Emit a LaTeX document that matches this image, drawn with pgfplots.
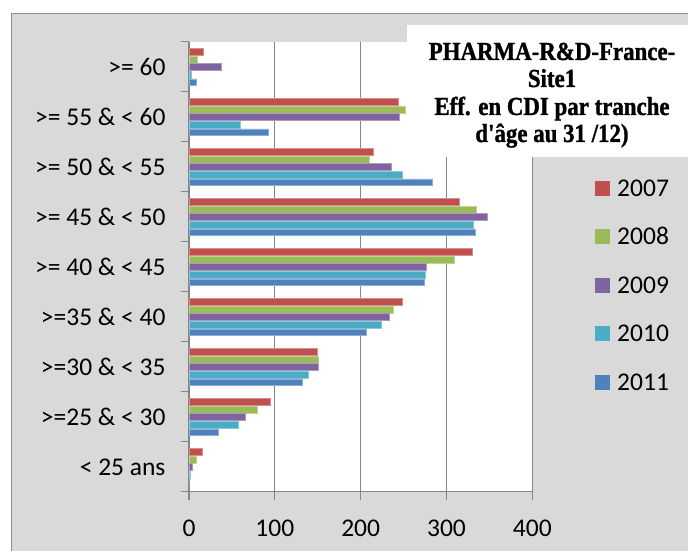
\documentclass[border=0pt]{standalone}
\usepackage{fontspec}
\setmainfont{Carlito}
\newfontfamily\titlefont{Liberation Serif}[FakeStretch=0.88, FakeBold=1.2]
\usepackage{pgfplots}
\pgfplotsset{compat=1.18}
\definecolor{c07}{HTML}{C0504D}
\definecolor{c08}{HTML}{9BBB59}
\definecolor{c09}{HTML}{8064A2}
\definecolor{c10}{HTML}{4BACC6}
\definecolor{c11}{HTML}{4F81BD}
\definecolor{bggray}{HTML}{D9D9D9}
\definecolor{framegray}{HTML}{8C8C8C}
\definecolor{gridgray}{HTML}{868686}
\pgfplotsset{sqlegend/.style={legend image code/.code={\fill[##1,draw=none] (0pt,-7.5pt) rectangle (15pt,7.5pt);}}}
\begin{document}
\begin{tikzpicture}[x=1pt,y=1pt]
\useasboundingbox (0,0) rectangle (688,551);
\fill[white] (0,0) rectangle (688,551);
\filldraw[fill=bggray, draw=framegray, line width=1pt] (11,537) rectangle (710,-20);
\begin{axis}[
  at={(189pt,59pt)}, anchor=south west, scale only axis,
  width=343.3pt, height=450pt,
  xmin=0, xmax=400, ymin=-0.5, ymax=8.5,
  xbar, bar width=0.135,
  axis background/.style={fill=white},
  axis lines*=left,
  axis line style={-, draw=gridgray, line width=1pt},
  every outer x axis line/.append style={-},
  every outer y axis line/.append style={-},
  tick align=outside,
  xtick={0,100,...,400},
  xmajorgrids,
  grid style={gridgray, line width=1pt},
  major tick length=8pt, minor tick length=8pt,
  every major x tick/.append style={draw=gridgray, line width=1pt},
  every major y tick/.append style={draw=none},
  every minor y tick/.append style={draw=gridgray, line width=1pt},
  ytick={0,...,8},
  minor ytick={-0.5,0.5,...,8.5},
  yticklabels={{< 25 ans},{>=25 \& < 30},{>=30 \& < 35},{>=35 \& < 40},{>= 40 \& < 45},{>= 45 \& < 50},{>= 50 \& < 55},{>= 55 \& < 60},{>= 60}},
  /pgf/number format/assume math mode=true,
  ticklabel style={font=\fontsize{25.5}{30}\selectfont},
  xticklabel style={yshift=-16pt},
  yticklabel style={xshift=-12pt},
  legend style={at={(1.1827,0.6933)}, anchor=north west, draw=none, fill=none,
    inner sep=0pt, row sep=32.5pt, column sep=7pt,
    font=\fontsize{25.5}{30}\selectfont,
    nodes={inner sep=0pt, text height=16pt, text depth=0pt}},
]
\addplot[fill=c07, draw=c07!65!white, line width=0.5pt, bar shift=0.304, sqlegend]
  coordinates {(16,0) (95,1) (149,2) (248,3) (330,4) (315,5) (215,6) (244,7) (17,8)};
\addplot[fill=c08, draw=c08!65!white, line width=0.5pt, bar shift=0.152, sqlegend]
  coordinates {(8,0) (80,1) (151,2) (238,3) (309,4) (335,5) (210,6) (252,7) (10,8)};
\addplot[fill=c09, draw=c09!65!white, line width=0.5pt, bar shift=0, sqlegend]
  coordinates {(4,0) (65,1) (151,2) (233,3) (276,4) (348,5) (236,6) (245,7) (38,8)};
\addplot[fill=c10, draw=c10!65!white, line width=0.5pt, bar shift=-0.152, sqlegend]
  coordinates {(1,0) (57,1) (139,2) (224,3) (275,4) (331,5) (248,6) (60,7) (3,8)};
\addplot[fill=c11, draw=c11!65!white, line width=0.5pt, bar shift=-0.304, sqlegend]
  coordinates {(0,0) (34,1) (132,2) (207,3) (274,4) (334,5) (284,6) (92,7) (9,8)};
\legend{2007,2008,2009,2010,2011}
\end{axis}
\fill[white] (407,394) rectangle (710,526);
\begin{scope}[every node/.style={anchor=base, inner sep=0pt, font=\titlefont\bfseries\fontsize{26}{28}\selectfont}]
\node at (552,491) {PHARMA-R\&D-France-};
\node at (552,464) {Site1};
\node at (552,436) {Eff. en CDI par tranche};
\node at (552,409) {d'âge au 31 /12)};
\end{scope}
\end{tikzpicture}
\end{document}
